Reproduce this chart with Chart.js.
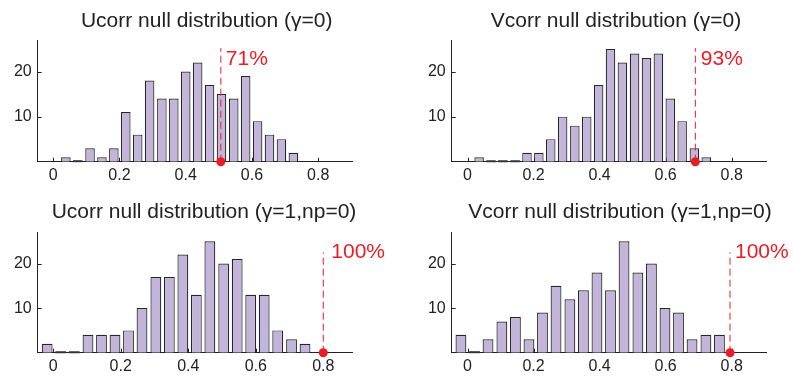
<!DOCTYPE html>
<html lang="en">
<head>
  <meta charset="UTF-8" />
  <title>Null distributions</title>
  <script src="https://cdn.jsdelivr.net/npm/chart.js"></script>
  <style>
    body { margin: 0; background: #fff; }
    .wrap { position: relative; width: 793px; height: 379px; overflow: hidden; }
    .panel { position: absolute; width: 393px; height: 189px; }
  </style>
</head>
<body>
  <div class="wrap">
    <div class="panel" style="left:0;top:0"><canvas id="c0" width="393" height="189"></canvas></div>
    <div class="panel" style="left:400px;top:0"><canvas id="c1" width="393" height="189"></canvas></div>
    <div class="panel" style="left:0;top:190px"><canvas id="c2" width="393" height="189"></canvas></div>
    <div class="panel" style="left:400px;top:190px"><canvas id="c3" width="393" height="189"></canvas></div>
  </div>

  <script>
    // ---- data ----
    const titles = [
      "Ucorr null distribution (\u03B3=0)",
      "Vcorr null distribution (\u03B3=0)",
      "Ucorr null distribution (\u03B3=1,np=0)",
      "Vcorr null distribution (\u03B3=1,np=0)"
    ];

    // bin centres
    const binsU0 = [0.038, 0.074, 0.111, 0.147, 0.183, 0.219, 0.255, 0.291, 0.328, 0.364,
                    0.400, 0.436, 0.472, 0.508, 0.545, 0.581, 0.617, 0.653, 0.689, 0.725];
    const binsV0 = [0.035, 0.071, 0.107, 0.144, 0.180, 0.216, 0.252, 0.288, 0.325, 0.361,
                    0.397, 0.433, 0.469, 0.506, 0.542, 0.578, 0.614, 0.650, 0.687, 0.723];
    const binsU1 = [-0.018, 0.022, 0.062, 0.103, 0.143, 0.183, 0.223, 0.263, 0.304, 0.344,
                    0.384, 0.424, 0.464, 0.505, 0.545, 0.585, 0.625, 0.665, 0.706, 0.746];
    const binsV1 = [-0.020, 0.021, 0.062, 0.104, 0.145, 0.186, 0.227, 0.268, 0.310, 0.351,
                    0.392, 0.433, 0.474, 0.516, 0.557, 0.598, 0.639, 0.680, 0.722, 0.763];

    // counts per bin
    const countsU0 = [1, 0, 3, 1, 3, 11, 6, 18, 14, 14, 20, 22, 17, 15, 14, 19, 9, 6, 5, 2];
    const countsV0 = [1, 0, 0, 0, 2, 2, 5, 10, 8, 10, 17, 25, 22, 24, 23, 24, 14, 9, 3, 1];
    const countsU1 = [2, 0, 0, 4, 4, 4, 5, 10, 17, 17, 22, 13, 25, 20, 21, 13, 13, 5, 3, 2];
    const countsV1 = [4, 0, 3, 7, 8, 3, 9, 15, 12, 14, 18, 14, 25, 18, 20, 10, 9, 3, 4, 4];

    // observed value and its percentile
    const observed = [0.506, 0.690, 0.800, 0.795];
    const percentLabels = ["71%", "93%", "100%", "100%"];

    const xTicks = [0, 0.2, 0.4, 0.6, 0.8];
    const yTicks = [10, 20];

    // ---- layout (canvas pixels) ----
    const layoutCfg = [
      { left: 37.7, right: 40.7, top: 40,   bottom: 1.3, xMin: -0.047, xMax: 0.903, markTop: 25.2, titleX: 206.7, titleY: 26.7, lblDx: 5,  lblY: 65 },
      { left: 51.7, right: 27,   top: 40,   bottom: 1.3, xMin: -0.048, xMax: 0.904, markTop: 25.2, titleX: 216,   titleY: 26.7, lblDx: 5.5, lblY: 65 },
      { left: 37.7, right: 40.7, top: 42.3, bottom: 0.3, xMin: -0.046, xMax: 0.886, markTop: 22.5, titleX: 204,   titleY: 27.7, lblDx: 8,  lblY: 68.3 },
      { left: 51.7, right: 27,   top: 42.3, bottom: 0.3, xMin: -0.048, xMax: 0.904, markTop: 22.5, titleX: 220,   titleY: 27.7, lblDx: 5,  lblY: 68.3 }
    ];

    const FONT = "'Liberation Sans', Arial, Helvetica, sans-serif";
    const RED = "rgb(236, 28, 36)";
    const INK = "#222";

    // titles, inside tick marks, empty bins and percent labels
    const panelDecor = {
      id: "panelDecor",
      beforeDatasetsDraw(chart, args, opts) {
        const { ctx, scales: { x, y } } = chart;
        ctx.save();
        ctx.strokeStyle = INK;
        ctx.lineWidth = 1;
        ctx.beginPath();
        xTicks.forEach(v => {
          const px = Math.round(x.getPixelForValue(v)) + 0.5;
          ctx.moveTo(px, y.bottom);
          ctx.lineTo(px, y.bottom - 4);
        });
        yTicks.forEach(v => {
          const py = Math.round(y.getPixelForValue(v)) + 0.5;
          ctx.moveTo(x.left, py);
          ctx.lineTo(x.left + 4, py);
        });
        ctx.stroke();
        ctx.restore();
      },
      afterDatasetsDraw(chart, args, opts) {
        const { ctx, scales: { x, y } } = chart;
        ctx.save();
        // empty bins show as a dark stroke on the axis
        const meta = chart.getDatasetMeta(1);
        ctx.strokeStyle = "#333";
        ctx.lineWidth = 2;
        ctx.beginPath();
        meta.data.forEach((bar, i) => {
          if (opts.counts[i] === 0) {
            ctx.moveTo(bar.x - bar.width / 2, y.bottom - 0.5);
            ctx.lineTo(bar.x + bar.width / 2, y.bottom - 0.5);
          }
        });
        ctx.stroke();

        // percentile label
        ctx.fillStyle = RED;
        ctx.font = "21px " + FONT;
        ctx.textAlign = "left";
        ctx.textBaseline = "alphabetic";
        ctx.fillText(opts.label, x.getPixelForValue(opts.mark) + opts.lblDx, opts.lblY);

        // title
        ctx.fillStyle = INK;
        ctx.textAlign = "center";
        ctx.fillText(opts.title, opts.titleX, opts.titleY);
        ctx.restore();
      }
    };

    function makePanel(idx, bins, counts) {
      const cfg = layoutCfg[idx];
      const ctx = document.getElementById("c" + idx).getContext("2d");

      return new Chart(ctx, {
        type: "bar",
        data: {
          datasets: [
            {
              // observed value marker (drawn on top of the bars)
              type: "line",
              data: [{ x: observed[idx], y: 0 }, { x: observed[idx], y: cfg.markTop }],
              borderColor: RED,
              borderWidth: 1,
              borderDash: [7, 4],
              pointRadius: [4.5, 0],
              pointBackgroundColor: RED,
              pointBorderWidth: 0,
              clip: false
            },
            {
              type: "bar",
              data: bins.map((b, i) => ({ x: b, y: counts[i] })),
              backgroundColor: "#c3b5d9",
              borderColor: "#262626",
              borderWidth: 1.2,
              categoryPercentage: 1,
              barPercentage: 0.8
            }
          ]
        },
        options: {
          responsive: false,
          animation: false,
          events: [],
          layout: {
            padding: { left: 0, right: cfg.right, top: cfg.top, bottom: cfg.bottom }
          },
          plugins: {
            legend: { display: false },
            tooltip: { enabled: false },
            title: { display: false },
            panelDecor: {
              counts: counts,
              mark: observed[idx],
              label: percentLabels[idx],
              title: titles[idx],
              titleX: cfg.titleX,
              titleY: cfg.titleY,
              lblDx: cfg.lblDx,
              lblY: cfg.lblY
            }
          },
          scales: {
            x: {
              type: "linear",
              offset: false,
              min: cfg.xMin,
              max: cfg.xMax,
              afterBuildTicks: s => { s.ticks = xTicks.map(v => ({ value: v })); },
              afterFit: s => { s.height = 26; },
              grid: { display: false, drawTicks: false },
              border: { display: true, color: INK, width: 1 },
              ticks: {
                color: INK,
                padding: 4,
                maxRotation: 0,
                font: { family: FONT, size: 16 },
                callback: v => String(v)
              }
            },
            y: {
              type: "linear",
              min: 0,
              max: 27,
              afterBuildTicks: s => { s.ticks = yTicks.map(v => ({ value: v })); },
              afterFit: s => { s.width = cfg.left; },
              grid: { display: false, drawTicks: false },
              border: { display: true, color: INK, width: 1 },
              ticks: {
                color: INK,
                padding: 6,
                font: { family: FONT, size: 16 }
              }
            }
          }
        },
        plugins: [panelDecor]
      });
    }

    makePanel(0, binsU0, countsU0);
    makePanel(1, binsV0, countsV0);
    makePanel(2, binsU1, countsU1);
    makePanel(3, binsV1, countsV1);
  </script>
</body>
</html>
